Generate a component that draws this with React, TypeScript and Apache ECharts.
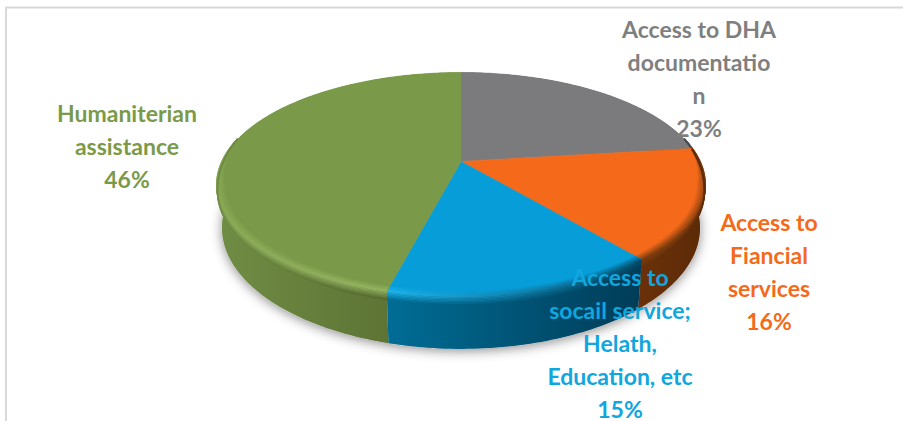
import React, { useEffect, useRef } from "react";
import * as echarts from "echarts";

// Slices run clockwise from twelve o'clock.
const categories = [
  "Access to DHA\ndocumentatio\nn",
  "Access to\nFiancial\nservices",
  "Access to\nsocail service;\nHelath,\nEducation, etc",
  "Humaniterian\nassistance",
];
const shares = [23, 16, 15, 46];

const topColors = ["#7b7b7d", "#f56a1a", "#069dd9", "#7b9a49"];
const labelColors = ["#7f7f7f", "#f56a1a", "#10a6de", "#7b9a49"];
const wallColors = [
  ["#4a4a4a", "#4a4a4a"],
  ["#6a3109", "#5c2a07"],
  ["#006d96", "#003c57"],
  ["#708d44", "#55692f"],
];
const rimColors = [
  ["#7b7b7d", "#7b7b7d"],
  ["#7d3c0e", "#8a400f"],
  ["#1fb4ec", "#03506f"],
  ["#8dac59", "#93b360"],
];
const labelCentres = [
  [699, 78],
  [769, 271],
  [620, 343],
  [127, 146],
];

// Perspective disc: a unit circle projected with a vanishing factor, so the
// hub sits above the middle of the visible ellipse.
const hub = { x: 461, y: 161.5 };
const topDisc = { a: 239, b: 107.3, k: 0.205 };
const baseDisc = { x: 461, y: 203, a: 234, b: 116, k: 0.205 };
const TAU = Math.PI * 2;

function project(disc: any, ox: number, oy: number, theta: number, r = 1) {
  const u = Math.sin(theta) * r;
  const v = -Math.cos(theta) * r;
  const d = 1 - disc.k * v;
  return [ox + (disc.a * u) / d, oy + (disc.b * v) / d];
}
const topPoint = (t: number, r = 1) => project(topDisc, hub.x, hub.y, t, r);
const basePoint = (t: number) => project(baseDisc, baseDisc.x, baseDisc.y, t);

function arcRange(from: number, to: number, fn: (t: number) => number[]) {
  const steps = Math.max(4, Math.ceil((to - from) / 0.02));
  const out: number[][] = [];
  for (let i = 0; i <= steps; i++) out.push(fn(from + ((to - from) * i) / steps));
  return out;
}

function hex(c: string) {
  return [1, 3, 5].map((i) => parseInt(c.slice(i, i + 2), 16));
}
function mix(a: string, b: string, t: number) {
  const x = hex(a);
  const y = hex(b);
  return `rgb(${x.map((v, i) => Math.round(v + (y[i] - v) * t)).join(",")})`;
}
function sideways(c0: string, c1: string) {
  return new echarts.graphic.LinearGradient(0, 0, 1, 0, [
    { offset: 0, color: c0 },
    { offset: 1, color: c1 },
  ]);
}

function sliceAngles(index: number, api: any) {
  const total = shares.reduce((s, v) => s + v, 0);
  const before = shares.slice(0, index).reduce((s, v) => s + v, 0);
  const start = (before / total) * TAU;
  return [start, start + (api.value(0) / total) * TAU];
}

// Ground shadow and the outer wall of the disc.
function renderWall(params: any, api: any) {
  const i = params.dataIndex;
  const [from, to] = sliceAngles(i, api);
  const children: any[] = [];
  if (i === 0) {
    children.push({
      type: "polygon",
      shape: { points: arcRange(0, TAU, basePoint) },
      style: {
        fill: "#c8c8c8",
        shadowBlur: 12,
        shadowColor: "rgba(0,0,0,0.45)",
        shadowOffsetY: 2,
      },
    });
  }
  const outer = arcRange(from, to, (t) => topPoint(t));
  const inner = arcRange(from, to, basePoint).reverse();
  children.push({
    type: "polygon",
    shape: { points: outer.concat(inner) },
    style: { fill: sideways(wallColors[i][0], wallColors[i][1]) },
  });
  return { type: "group", children };
}

// Flat top of each slice plus the soft bevel along the front rim.
function renderTop(params: any, api: any) {
  const i = params.dataIndex;
  const [from, to] = sliceAngles(i, api);
  const outer = arcRange(from, to, (t) => topPoint(t));
  const children: any[] = [
    {
      type: "polygon",
      shape: { points: [[hub.x, hub.y], ...outer] },
      style: { fill: topColors[i], stroke: topColors[i], lineWidth: 0.5 },
    },
  ];

  const frontEnd = i === 3 ? Math.PI * 1.57 : to;
  const frontStart = Math.max(from, Math.PI * 0.43);
  if (frontStart < frontEnd) {
    const [rimL, rimR] = rimColors[i];
    const [wallL, wallR] = wallColors[i];
    const top = topColors[i];
    const band = (t: number) => Math.min(1, Math.max(0, (-Math.cos(t) + 0.2) / 0.4));
    // Inner half of the bevel: fades from the flat face into the rim colour.
    for (let s = 6; s >= 0; s--) {
      const f = s / 6;
      children.push({
        type: "polyline",
        shape: {
          points: arcRange(frontStart, frontEnd, (t) => topPoint(t, 1 - 0.035 * f * band(t))),
        },
        style: {
          stroke: sideways(mix(rimL, top, f), mix(rimR, top, f)),
          lineWidth: 1.6,
          fill: "none",
        },
      });
    }
    // Outer half: fades from the rim colour down into the wall.
    for (let s = 1; s <= 6; s++) {
      const f = s / 6;
      children.push({
        type: "polyline",
        shape: {
          points: arcRange(frontStart, frontEnd, (t) => {
            const p = topPoint(t);
            const q = basePoint(t);
            const w = 0.16 * f * band(t);
            return [p[0] + (q[0] - p[0]) * w, p[1] + (q[1] - p[1]) * w];
          }),
        },
        style: {
          stroke: sideways(mix(rimL, wallL, f), mix(rimR, wallR, f)),
          lineWidth: 1.6,
          fill: "none",
        },
      });
    }
  }
  return { type: "group", children };
}

function renderLabel(params: any, api: any) {
  const i = params.dataIndex;
  const [x, y] = labelCentres[i];
  return {
    type: "text",
    style: {
      text: `${categories[i]}\n${api.value(0)}%`,
      x,
      y,
      align: "center",
      verticalAlign: "middle",
      fill: labelColors[i],
      fontFamily: "Lato",
      fontWeight: "bold",
      fontSize: 23,
      lineHeight: 33,
    },
  };
}

export default function App() {
  const ref = useRef<HTMLDivElement>(null);

  useEffect(() => {
    const chart = echarts.init(ref.current!, undefined, { renderer: "svg" });
    const layers = [renderWall, renderTop, renderLabel];
    chart.setOption({
      animation: false,
      backgroundColor: "#ffffff",
      graphic: [
        {
          type: "polyline",
          shape: { points: [[6, 421], [6, 7.5], [903, 7.5]] },
          style: { stroke: "#d9d9d9", lineWidth: 2, fill: "none" },
          silent: true,
        },
      ],
      series: layers.map((renderItem, z) => ({
        type: "custom",
        coordinateSystem: "none",
        renderItem,
        z: z + 2,
        silent: true,
        data: shares.map((v, i) => ({ name: categories[i], value: [v] })),
      })),
    });
    return () => chart.dispose();
  }, []);

  return (
    <div
      ref={ref}
      style={{ position: "fixed", left: 0, top: 0, width: 903, height: 421 }}
    />
  );
}
